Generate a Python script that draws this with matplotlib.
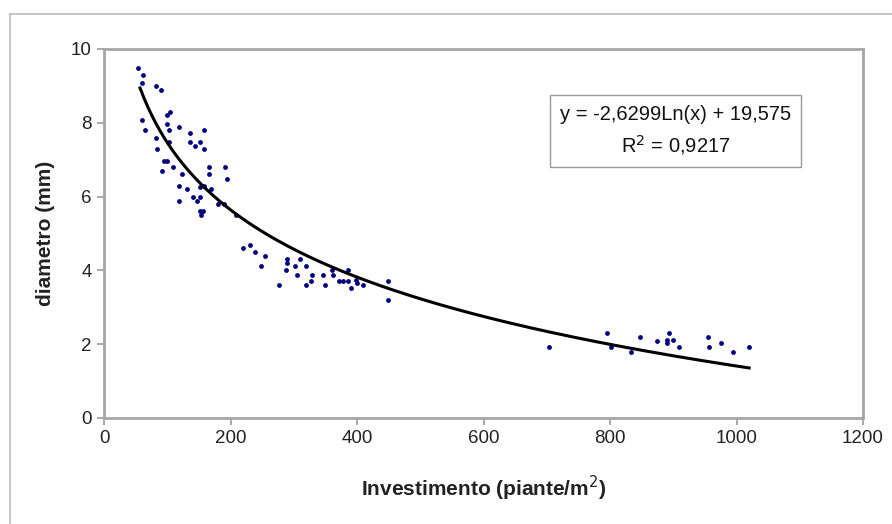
import numpy as np
import matplotlib
matplotlib.use("Agg")
import matplotlib.pyplot as plt
from matplotlib.lines import Line2D

plt.rcParams['font.family'] = ['Liberation Sans', 'DejaVu Sans']

# densita' di impianto (piante/m2) e diametro misurato (mm)
investimento = [54, 62, 60, 82, 90, 60, 65, 104, 100, 99, 102, 119, 136, 158,
                136, 144, 152, 158, 82, 84, 102, 95, 99, 92, 109, 124, 166, 166,
                191, 194, 119, 132, 151, 158, 169, 141, 147, 152, 119, 152, 157,
                154, 181, 189, 208,
                220, 231, 238, 255, 248, 277, 290, 290, 287, 302, 305, 310, 320,
                329, 327, 320, 347, 349, 360, 362, 372, 378, 385, 385, 398, 400,
                390, 409, 449, 449,
                704, 796, 801, 833, 848, 875, 890, 890, 894, 900, 909, 955, 957,
                976, 994, 1019]
diametro = [9.49, 9.30, 9.07, 8.99, 8.89, 8.07, 7.80, 8.30, 8.21, 7.98, 7.80,
            7.89, 7.71, 7.80, 7.49, 7.38, 7.49, 7.29, 7.58, 7.29, 7.47, 6.97,
            6.97, 6.70, 6.79, 6.61, 6.79, 6.61, 6.79, 6.48, 6.30, 6.21, 6.27,
            6.30, 6.21, 5.98, 5.89, 5.98, 5.89, 5.62, 5.62, 5.49, 5.80, 5.80,
            5.49,
            4.61, 4.70, 4.51, 4.39, 4.11, 3.61, 4.30, 4.21, 4.02, 4.11, 3.88,
            4.30, 4.11, 3.88, 3.70, 3.61, 3.88, 3.61, 4.02, 3.88, 3.70, 3.70,
            3.70, 4.02, 3.75, 3.66, 3.52, 3.61, 3.70, 3.21,
            1.93, 2.29, 1.92, 1.78, 2.20, 2.10, 2.11, 2.02, 2.29, 2.11, 1.92,
            2.20, 1.93, 2.02, 1.78, 1.93]

# linea di tendenza logaritmica
coef_a = -2.6299
coef_b = 19.575
r2 = 0.9217
x_min, x_max = 57, 1020

xticks = [0, 200, 400, 600, 800, 1000, 1200]
yticks = [0, 2, 4, 6, 8, 10]

fig = plt.figure(figsize=(8.92, 5.24), dpi=100)
ax = fig.add_axes([0.1166, 0.2023, 0.8509, 0.7042])

ax.scatter(investimento, diametro, s=12, color='#000080', zorder=3, linewidths=0)

xf = np.linspace(x_min, x_max, 300)
ax.plot(xf, coef_a * np.log(xf) + coef_b, color='black', lw=2.2, zorder=4)

ax.set_xlim(0, 1200)
ax.set_ylim(0, 10)
ax.set_xticks(xticks)
ax.set_yticks(yticks)
ax.tick_params(labelsize=13.5, colors='#999999', labelcolor='#222222',
               length=5, width=1.2, pad=4)

for side in ['top', 'right', 'bottom', 'left']:
    ax.spines[side].set_color('#a6a6a6')
    ax.spines[side].set_linewidth(2)

ax.set_xlabel('Investimento (piante/m$^2$)', fontsize=15, fontweight='bold',
              labelpad=19, color='#222222')
ax.set_ylabel('diametro (mm)', fontsize=15, fontweight='bold',
              labelpad=11, color='#222222')

label = f'y = {coef_a:.4f}Ln(x) + {coef_b:.3f}\nR$^2$ = {r2:.4f}'
ax.text(0.753, 0.778, label.replace('.', ','), transform=ax.transAxes,
        fontsize=14.5, ha='center', va='center', linespacing=1.5,
        color='#111111',
        bbox=dict(boxstyle='square,pad=0.5', fc='white', ec='#999999', lw=1))

# cornice esterna del grafico
fx = 10 / 892
fy = 1 - 14 / 524
fig.add_artist(Line2D([fx, 1], [fy, fy], color='#bbbbbb', lw=1.2,
                      transform=fig.transFigure))
fig.add_artist(Line2D([fx, fx], [0, fy], color='#bbbbbb', lw=1.2,
                      transform=fig.transFigure))

fig.savefig('out.png', dpi=100, facecolor='white')
